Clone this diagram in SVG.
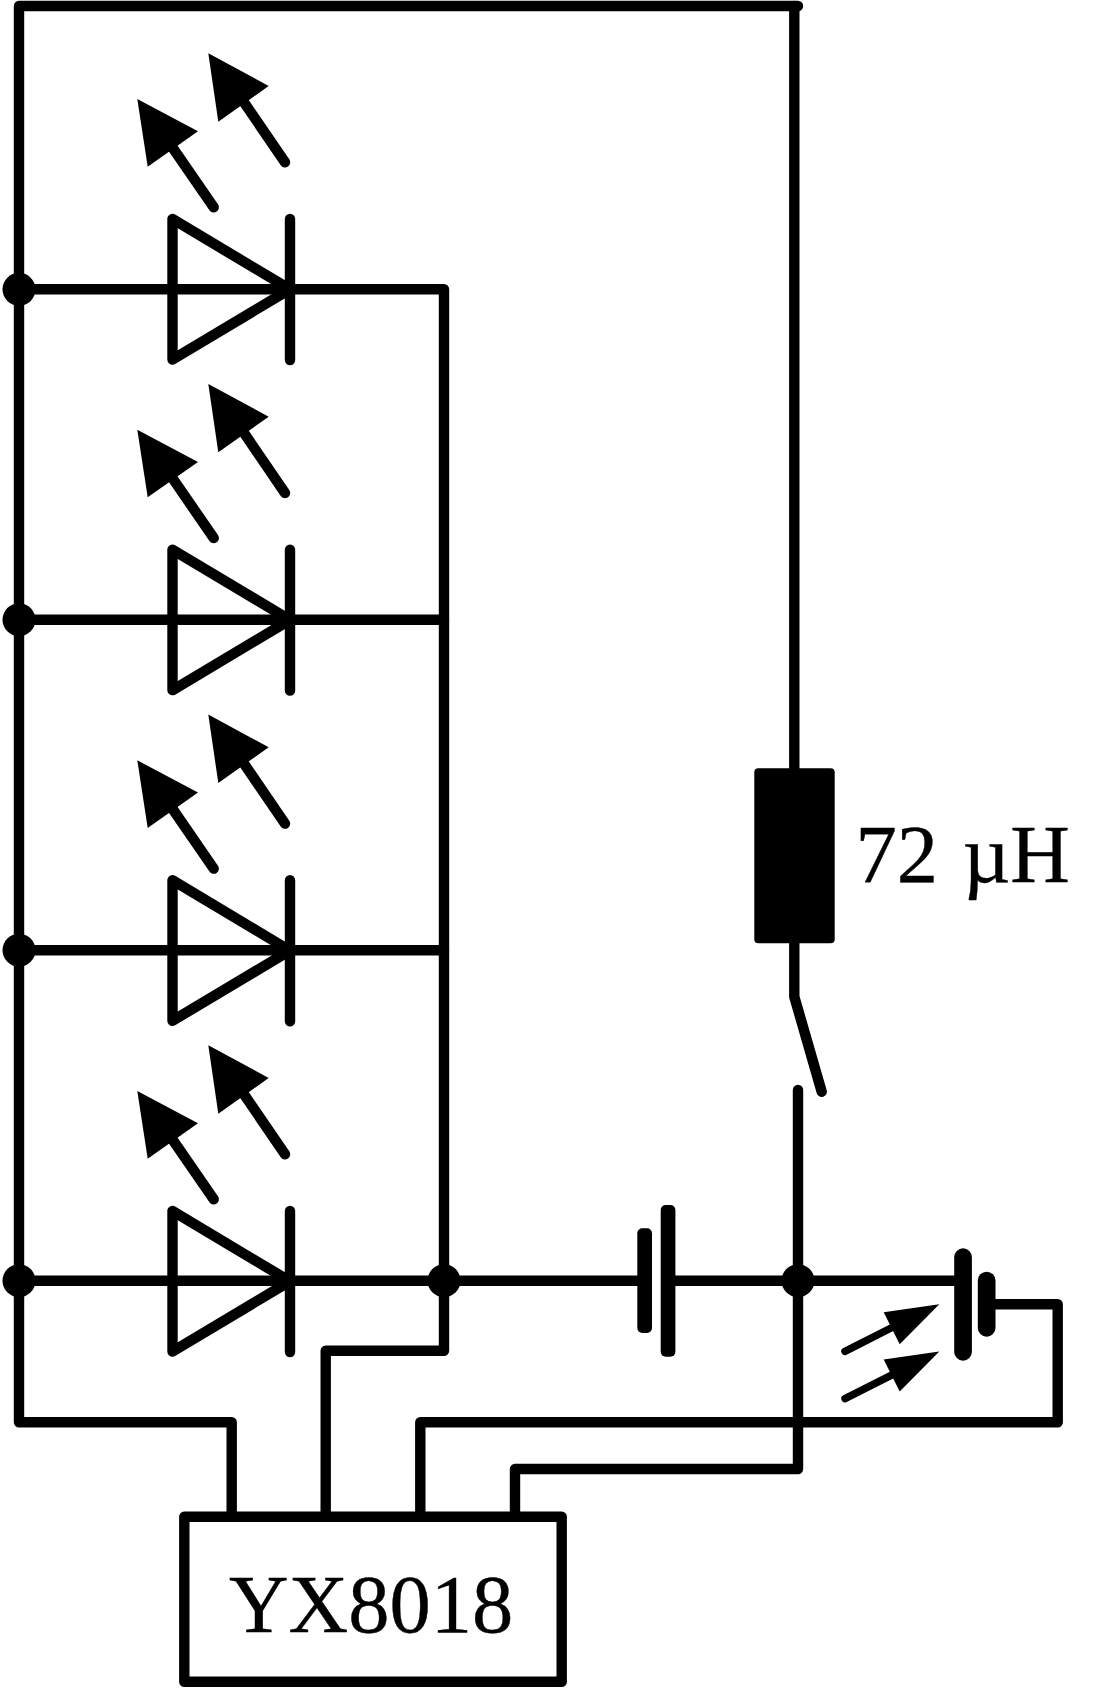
<svg xmlns="http://www.w3.org/2000/svg" width="1113" height="1694" viewBox="0 0 1113 1694">
<style>
.w{fill:none;stroke:#000;stroke-width:10.400;stroke-linecap:round;stroke-linejoin:round}
.a{fill:#000}
.t{font-family:"Liberation Serif","Times New Roman",serif;font-size:82.500px;fill:#000;stroke:#000;stroke-width:.4}
</style>
<defs>
<g id="led">
<path class="w" d="M172.500 219V359.500L290 289.300L172.500 219Z"/>
<path class="w" d="M290 219V360"/>
<path class="a" d="M137.300 99L198 131.300L147.700 166.700Z"/>
<path class="w" d="M168 141L213.700 207.300"/>
<path class="a" d="M208.300 53.300L268.700 86L218.300 121.700Z"/>
<path class="w" d="M239 95L285 162.300"/>
</g>
<g id="ray">
<path class="a" d="M939.300 1304.300L883.700 1312.300L899.700 1344.300Z"/>
<path d="M845 1351.300L895 1326" fill="none" stroke="#000" stroke-width="7.500" stroke-linecap="round"/>
</g>
</defs>
<rect width="1113" height="1694" fill="#fff"/>
<g id="connectors">
<path class="w" d="M798 6H19V1422.300H231.700V1516.700"/>
<path class="w" d="M794.300 6V768M794.300 943V996.700L821.700 1091.700"/>
<path class="w" d="M19 289.300H290H444V1350.700H325.700V1516.700"/>
<path class="w" d="M19 619.700H444M19 950.200H444M19 1280.700H645M668 1280.700H963"/>
<path class="w" d="M798 1090V1469H515V1516.700"/>
<path class="w" d="M420.300 1516.700V1422.300H1057.700V1304.300H990"/>
</g>
<g id="led1"><use href="#led"/><circle cx="19" cy="289.300" r="16.500"/></g>
<g id="led2"><use href="#led" y="330.670"/><circle cx="19" cy="619.700" r="16.500"/></g>
<g id="led3"><use href="#led" y="661.300"/><circle cx="19" cy="950.200" r="16.500"/></g>
<g id="led4"><use href="#led" y="992"/><circle cx="19" cy="1280.700" r="16.500"/></g>
<g id="junction1"><circle cx="444" cy="1280.700" r="16.500"/></g>
<g id="junction2"><circle cx="798" cy="1280.700" r="16.500"/></g>
<g id="inductor">
<rect x="754.300" y="768.300" width="80.400" height="175" rx="4"/>
<text class="t" x="855.500" y="881.700" word-spacing="4">72 µH</text>
</g>
<g id="battery">
<rect x="637.300" y="1228.300" width="14.700" height="104.700" rx="5"/>
<rect x="660.700" y="1205" width="14.700" height="151.700" rx="5"/>
</g>
<g id="solar">
<rect x="954.200" y="1248.300" width="17.700" height="112.400" rx="8.800"/>
<rect x="977.800" y="1271.700" width="17.700" height="65" rx="8.800"/>
<use href="#ray"/>
<use href="#ray" y="47.300"/>
</g>
<g id="chip">
<rect class="w" x="184.300" y="1516.700" width="377.400" height="165"/>
<text class="t" x="229" y="1632.300">YX8018</text>
</g>
</svg>
